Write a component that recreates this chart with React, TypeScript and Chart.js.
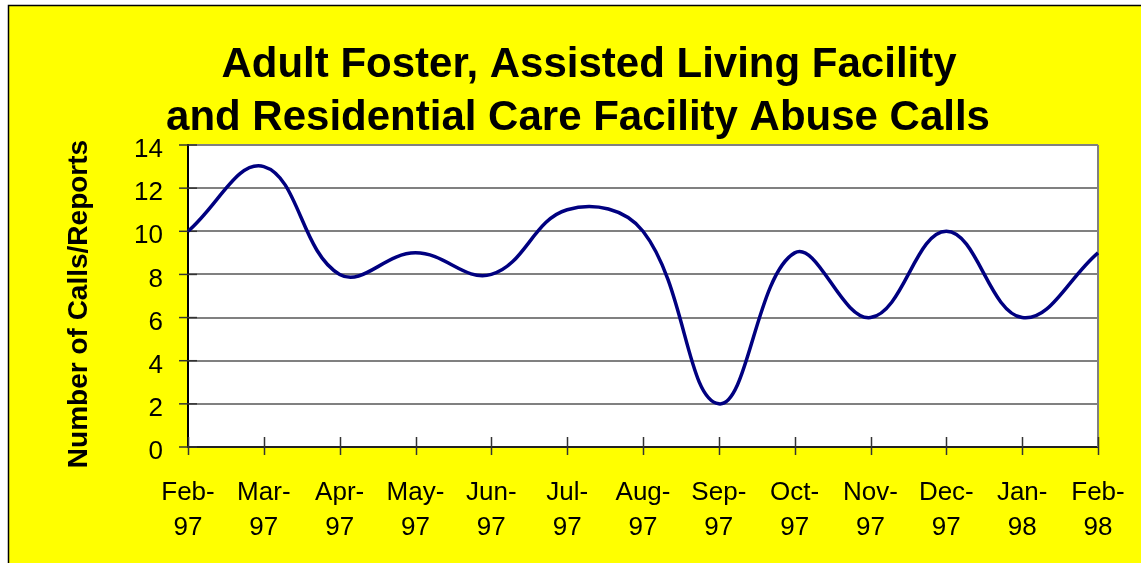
import React, { useEffect, useRef } from "react";
import { Chart, registerables } from "chart.js";

Chart.register(...registerables);

const W = 1141;
const H = 563;

const monthLabels = ["Feb-", "Mar-", "Apr-", "May-", "Jun-", "Jul-", "Aug-", "Sep-", "Oct-", "Nov-", "Dec-", "Jan-", "Feb-"];
const yearLabels = ["97", "97", "97", "97", "97", "97", "97", "97", "97", "97", "97", "98", "98"];
const calls = [10, 13, 8, 9, 8, 11, 10, 2, 9, 6, 10, 6, 9];
const yMin = 0;
const yMax = 14;
const yStep = 2;
const titleLines = ["Adult Foster, Assisted Living Facility", "and Residential Care Facility Abuse Calls"];
const yTitle = "Number of Calls/Reports";

const FONT = '"Liberation Sans", Arial, sans-serif';

const decor = {
  id: "decor",
  beforeDraw(chart: any) {
    const { ctx, chartArea: a } = chart;
    ctx.save();
    ctx.fillStyle = "#ffffff";
    ctx.fillRect(0, 0, W, H);
    ctx.fillStyle = "#ffff00";
    ctx.fillRect(8, 5, W - 8, H - 5);
    ctx.strokeStyle = "#000000";
    ctx.lineWidth = 1.5;
    ctx.beginPath();
    ctx.moveTo(8.5, H);
    ctx.lineTo(8.5, 5.5);
    ctx.lineTo(W, 5.5);
    ctx.stroke();
    ctx.fillStyle = "#ffffff";
    ctx.fillRect(a.left, a.top, a.right - a.left, a.bottom - a.top);

    ctx.fillStyle = "#000000";
    ctx.font = `bold 42px ${FONT}`;
    ctx.textAlign = "center";
    ctx.textBaseline = "alphabetic";
    ctx.fillText(titleLines[0], 589, 77);
    ctx.fillText(titleLines[1], 578, 130);

    ctx.translate(87, 304);
    ctx.rotate(-Math.PI / 2);
    ctx.font = `bold 28px ${FONT}`;
    ctx.fillText(yTitle, 0, 0);
    ctx.restore();
  },
  beforeDatasetsDraw(chart: any) {
    const { ctx, chartArea: a, scales } = chart;
    ctx.save();
    ctx.strokeStyle = "#808080";
    ctx.lineWidth = 2;
    ctx.beginPath();
    ctx.moveTo(a.right, a.top);
    ctx.lineTo(a.right, a.bottom);
    ctx.stroke();
    ctx.strokeStyle = "#333333";
    ctx.lineWidth = 1.5;
    const xs = scales.x;
    for (let i = 0; i < xs.ticks.length; i++) {
      const px = Math.round(xs.getPixelForTick(i)) + 0.5;
      ctx.beginPath();
      ctx.moveTo(px, a.bottom - 10);
      ctx.lineTo(px, a.bottom + 8);
      ctx.stroke();
    }
    const ys = scales.y;
    for (let i = 0; i < ys.ticks.length; i++) {
      const py = ys.getPixelForTick(i);
      ctx.beginPath();
      ctx.moveTo(a.left - 9, py);
      ctx.lineTo(a.left + 9, py);
      ctx.stroke();
    }
    ctx.restore();
  },
};

export default function App() {
  const ref = useRef<HTMLCanvasElement | null>(null);
  useEffect(() => {
    if (!ref.current) return;
    const labels = monthLabels.map((m, i) => [m, yearLabels[i]]);
    const chart = new Chart(ref.current, {
      type: "line",
      data: {
        labels,
        datasets: [
          {
            data: calls,
            borderColor: "#000080",
            borderWidth: 3.5,
            pointRadius: 0,
            tension: 0.4,
            fill: false,
          },
        ],
      },
      options: {
        responsive: false,
        animation: false,
        devicePixelRatio: 1,
        layout: { padding: { top: 145, right: 43, bottom: 0, left: 0 } },
        plugins: { legend: { display: false }, title: { display: false }, tooltip: { enabled: false } },
        scales: {
          x: {
            type: "category",
            offset: false,
            grid: { drawOnChartArea: false, drawTicks: false },
            border: { color: "#222222", width: 2 },
            ticks: {
              color: "#000000",
              font: { family: FONT, size: 26, lineHeight: 35 / 26 },
              padding: 28,
              maxRotation: 0,
              minRotation: 0,
              autoSkip: false,
            },
            afterFit(scale: any) {
              scale.height = 116;
              scale.paddingLeft = 0;
              scale.paddingRight = 0;
            },
          },
          y: {
            min: yMin,
            max: yMax,
            grid: { color: "#808080", lineWidth: 2, drawTicks: false },
            border: { color: "#000000", width: 2 },
            ticks: {
              stepSize: yStep,
              color: "#000000",
              font: { family: FONT, size: 26 },
              padding: 25,
              labelOffset: 5,
            },
            afterFit(scale: any) {
              scale.width = 188;
              scale.paddingTop = 0;
              scale.paddingBottom = 0;
            },
          },
        },
      },
      plugins: [decor],
    });
    return () => chart.destroy();
  }, []);
  return (
    <div style={{ position: "absolute", left: 0, top: 0, width: W, height: H }}>
      <canvas ref={ref} width={W} height={H} style={{ display: "block" }} />
    </div>
  );
}
